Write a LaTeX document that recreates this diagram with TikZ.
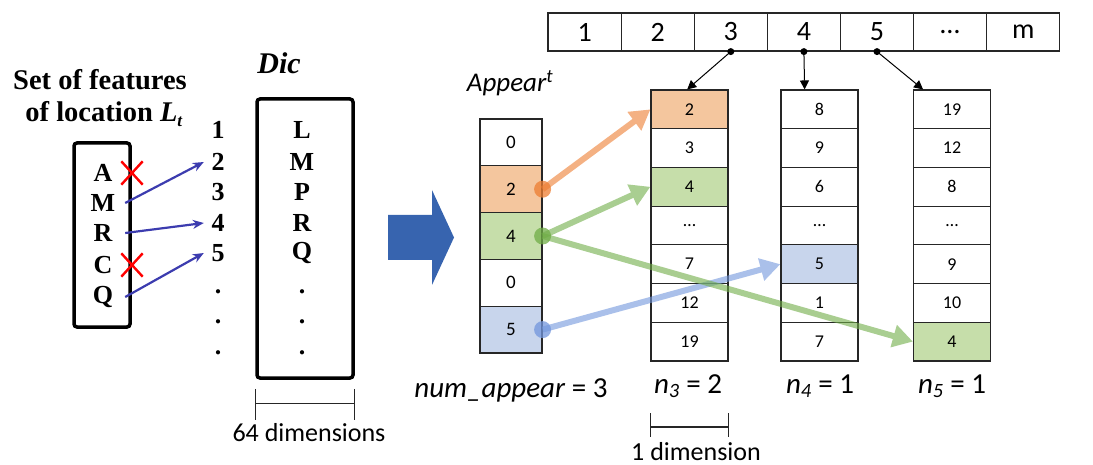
\documentclass[tikz,border=0pt]{standalone}
\usepackage{fontspec}
\setmainfont{Liberation Serif}
\newfontfamily\calfont{Carlito}
\usetikzlibrary{arrows.meta,shapes.misc,calc}

\definecolor{peach}{RGB}{244,198,158}
\definecolor{leaf}{RGB}{198,222,170}
\definecolor{sky}{RGB}{200,213,236}
\definecolor{peachline}{RGB}{237,125,49}
\definecolor{leafline}{RGB}{112,173,71}
\definecolor{skyline}{RGB}{114,150,220}
\definecolor{bigblue}{RGB}{55,100,175}
\definecolor{linkblue}{RGB}{60,60,175}

\newcommand{\fsz}[1]{\fontsize{#1}{#1}\selectfont}

\begin{document}
\begin{tikzpicture}[x=1pt,y=-1pt,
  serifbig/.style={font=\bfseries\fsz{28.5}},
  letter/.style={font=\bfseries\fsz{26}, inner sep=0pt},
  feat/.style={letter, minimum width=44pt},
  idx/.style={letter, minimum width=28pt},
  thickbox/.style={draw, line width=3.5pt, rounded corners=3pt},
  cross/.style={cross out, draw=red, line width=2.4pt, minimum width=19pt, minimum height=21pt, inner sep=0pt},
  link/.style={draw=linkblue, line width=2.2pt, -{Stealth[length=11pt,width=9pt]}},
  dim/.style={line width=1.3pt, black!85},
  sanslabel/.style={font=\calfont\fsz{26}, inner sep=0pt},
  topcell/.style={draw=black!85, line width=1.2pt, minimum width=73.1pt, minimum height=38pt, inner sep=0pt, font=\calfont\fsz{28}},
  apcell/.style={draw=black!85, line width=1.2pt, minimum width=62pt, minimum height=46.8pt, inner sep=0pt, font=\calfont\fsz{19}},
  cell/.style={draw=black!85, line width=1.2pt, minimum width=77pt, minimum height=38.7pt, inner sep=0pt, font=\calfont\fsz{18}},
  pin/.style={circle, fill=black, inner sep=0pt, minimum size=7pt},
  ptr/.style={line width=1pt, -{Triangle[length=9pt,width=9pt]}},
  flow/.style={line width=6pt, -{Triangle[length=20pt,width=22pt]}},
  blob/.style={circle, inner sep=0pt, minimum size=17pt, opacity=0.75},
]
\useasboundingbox (0,0) rectangle (1093,465);

% ---------- feature set of location L_t ----------
\node[serifbig, anchor=base] (title1) at (100,90) {Set of features};
\node[serifbig, anchor=base] (title2) at (104,122) {of location \textit{L}\raisebox{-0.35ex}{\fsz{17}\textit{t}}};
\node[thickbox, minimum width=56pt, minimum height=184pt] (setbox) at (102,235) {};
\foreach \l/\y in {A/173, M/203, R/233, C/265, Q/297}
  \node[feat] (f\l) at (103,\y) {\l};
\node[cross] (xA) at (132,173) {};
\node[cross] (xC) at (132,265) {};

% ---------- indices ----------
\foreach \n/\y in {1/130, 2/162, 3/192, 4/223, 5/253}
  \node[idx] (n\n) at (218,\y) {\n};
\foreach \k/\y in {1/292, 2/322, 3/353}
  \node[idx] (nd\k) at (218,\y) {.};

\draw[link] (fM.east) -- (n2.west);
\draw[link] (fR.east) -- (n4.west);
\draw[link] (fQ.east) -- (n5.west);

% ---------- dictionary ----------
\node[font=\bfseries\itshape\fsz{30}] (dictitle) at (279,63) {Dic};
\node[thickbox, minimum width=96pt, minimum height=279pt] (dicbox) at (305,238.5) {};
\foreach \l/\y in {L/130, M/162, P/192, R/223, Q/253}
  \node[letter] (d\l) at (302,\y) {\l};
\foreach \k/\y in {1/292, 2/322, 3/353}
  \node[letter] (dd\k) at (302,\y) {.};

\coordinate (dimA) at ($(dicbox.south west)+(0,9)$);
\coordinate (dimB) at ($(dicbox.south east)+(0,9)$);
\draw[dim] (dimA) -- ++(0,31);
\draw[dim] (dimB) -- ++(0,31);
\draw[dim] ($(dimA)+(0,15)$) -- ($(dimB)+(0,15)$);
\node[sanslabel, anchor=base] (dim64) at (309,441) {64 dimensions};

% ---------- big arrow ----------
\fill[bigblue] (388,215) -- (432,215) -- (432,190) -- (454,237.5) -- (432,285) -- (432,260) -- (388,260) -- cycle;

% ---------- Appear^t ----------
\node[font=\calfont\itshape\fsz{27}, anchor=base] (aptitle) at (510,92) {Appear\textsuperscript{t}};
\foreach \v/\f [count=\i] in {0/white, 2/peach, 4/leaf, 0/white, 5/sky}
  \node[apcell, fill=\f] (a\i) at (511,{142.4+46.8*(\i-1)}) {\v};
\node[font=\calfont\fsz{29}, anchor=base] (numlab) at (511,397) {\textit{num\_appear} = 3};

% ---------- top array ----------
\foreach \v [count=\i] in {1,2,3,4,5,{…},m}
  \node[topcell] (t\i) at ({584.6+73.1*(\i-1)},32) {\v};

% ---------- posting columns ----------
\foreach \v/\f [count=\i] in {2/peach, 3/white, 4/leaf, {…}/white, 7/white, 12/white, 19/white}
  \node[cell, fill=\f] (c3r\i) at (689.5,{109.4+38.7*(\i-1)}) {\v};
\foreach \v/\f [count=\i] in {8/white, 9/white, 6/white, {…}/white, 5/sky, 1/white, 7/white}
  \node[cell, fill=\f] (c4r\i) at (819.5,{109.4+38.7*(\i-1)}) {\v};
\foreach \v/\f [count=\i] in {19/white, 12/white, 8/white, {…}/white, 9/white, 10/white, 4/leaf}
  \node[cell, fill=\f] (c5r\i) at (952,{109.4+38.7*(\i-1)}) {\v};

\node[pin] (p3) at (t3.south) {};
\node[pin] (p4) at (t4.south) {};
\node[pin] (p5) at (t5.south) {};
\draw[ptr] (p3.center) -- ($(c3r1.north west)!0.47!(c3r1.north east)$);
\draw[ptr] (p4.center) -- ($(c4r1.north west)!0.31!(c4r1.north east)$);
\draw[ptr] (p5.center) -- ($(c5r1.north west)!0.13!(c5r1.north east)$);

\node[font=\calfont\fsz{29}, anchor=base] (n3lab) at (688,393) {\textit{n}\textsubscript{\textit{3}} = 2};
\node[font=\calfont\fsz{29}, anchor=base] (n4lab) at (820,393) {\textit{n}\textsubscript{\textit{4}} = 1};
\node[font=\calfont\fsz{29}, anchor=base] (n5lab) at (952,393) {\textit{n}\textsubscript{\textit{5}} = 1};

\coordinate (dimC) at (c3r7.south west |- 0,413);
\coordinate (dimD) at (c3r7.south east |- 0,413);
\draw[dim] (dimC) -- ++(0,24);
\draw[dim] (dimD) -- ++(0,24);
\draw[dim] ($(dimC)+(0,14)$) -- ($(dimD)+(0,14)$);
\node[sanslabel, anchor=base] (dim1) at (696,460) {1 dimension};

% ---------- links from Appear^t into the columns ----------
\node[blob, fill=peachline] (bO) at (a2.east) {};
\node[blob, fill=leafline] (bG) at (a3.east) {};
\node[blob, fill=skyline] (bB) at (a5.east) {};
\begin{scope}[transparency group, opacity=0.6]
  \draw[flow, draw=skyline, fill=skyline] (bB.center) -- (c4r5.west);
\end{scope}
\begin{scope}[transparency group, opacity=0.6]
  \draw[flow, draw=peachline, fill=peachline] (bO.center) -- (c3r1.west);
\end{scope}
\begin{scope}[transparency group, opacity=0.6]
  \draw[flow, draw=leafline, fill=leafline] (bG.center) -- (c3r3.west);
\end{scope}
\begin{scope}[transparency group, opacity=0.6]
  \draw[flow, draw=leafline, fill=leafline] (bG.center) -- (c5r7.west);
\end{scope}
\end{tikzpicture}
\end{document}
